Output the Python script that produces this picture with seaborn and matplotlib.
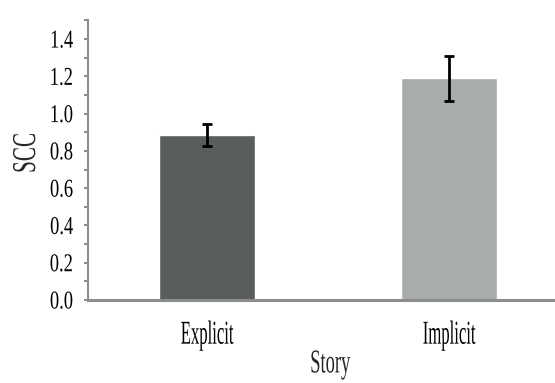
import matplotlib
matplotlib.use("Agg")
import matplotlib.pyplot as plt
from matplotlib.ticker import MultipleLocator, FormatStrFormatter
from matplotlib.patheffects import AbstractPathEffect
from matplotlib.transforms import Affine2D
import seaborn as sns
import pandas as pd

stories = ["Explicit", "Implicit"]
scc_mean = [0.885, 1.19]
scc_err = [0.058, 0.12]
bar_colors = ["#5a5d5d", "#a9acac"]


class Narrow(AbstractPathEffect):
    """Draw glyph outlines squeezed along the text direction."""

    def __init__(self, sx=0.7, anchor=0.5):
        super().__init__()
        self.sx = sx
        self.anchor = anchor

    def draw_path(self, renderer, gc, tpath, affine, rgbFace=None):
        ext = tpath.get_extents()
        cx = ext.x0 + self.anchor * (ext.x1 - ext.x0)
        t = Affine2D().translate(-cx, 0).scale(self.sx, 1).translate(cx, 0) + affine
        renderer.draw_path(gc, tpath, t, rgbFace)


sns.set_style("white")
plt.rcParams["font.family"] = "serif"
plt.rcParams["font.serif"] = ["Liberation Serif", "Times New Roman", "DejaVu Serif"]

df = pd.DataFrame({"Story": stories, "SCC": scc_mean})

fig = plt.figure(figsize=(5.55, 3.83), dpi=100)
ax = fig.add_axes([0.1586, 0.2167, 0.8414, 0.730])

sns.barplot(data=df, x="Story", y="SCC", hue="Story", palette=bar_colors,
            width=0.4, errorbar=None, legend=False, ax=ax, saturation=1)
ax.errorbar(range(len(stories)), scc_mean, yerr=scc_err, fmt="none",
            ecolor="black", elinewidth=2, capsize=3.5, capthick=2)

ax.set_xlim(-0.492, 1.438)
ax.set_ylim(0, 1.5)
ax.yaxis.set_major_locator(MultipleLocator(0.2))
ax.yaxis.set_minor_locator(MultipleLocator(0.1))
ax.yaxis.set_major_formatter(FormatStrFormatter("%.1f"))

for side in ["top", "right"]:
    ax.spines[side].set_visible(False)
ax.spines["left"].set_color("#8c8e8e")
ax.spines["left"].set_linewidth(1.5)
ax.spines["bottom"].set_color("#8c8e8e")
ax.spines["bottom"].set_linewidth(2.2)

tick_fs = 18.5
label_fs = 24
ax.tick_params(axis="y", which="both", left=True, length=3, width=1.5,
               color="#8c8e8e", labelsize=tick_fs, pad=7.5, labelcolor="black")
ax.tick_params(axis="x", bottom=False, labelsize=label_fs, pad=11,
               labelcolor="black")

ax.set_xlabel("Story", fontsize=label_fs)
ax.set_ylabel("SCC", fontsize=label_fs)
ax.xaxis.set_label_coords(0.518, -0.175)
ax.yaxis.set_label_coords(-0.0985, 0.526)

fig.canvas.draw()
for lab in ax.get_yticklabels():
    lab.set_path_effects([Narrow(0.72, 1.0)])
for lab in ax.get_xticklabels():
    lab.set_path_effects([Narrow(0.5, 0.5)])
ax.xaxis.label.set_path_effects([Narrow(0.555, 0.5)])
ax.yaxis.label.set_path_effects([Narrow(0.635, 0.5)])

fig.savefig("out.png", dpi=100)
